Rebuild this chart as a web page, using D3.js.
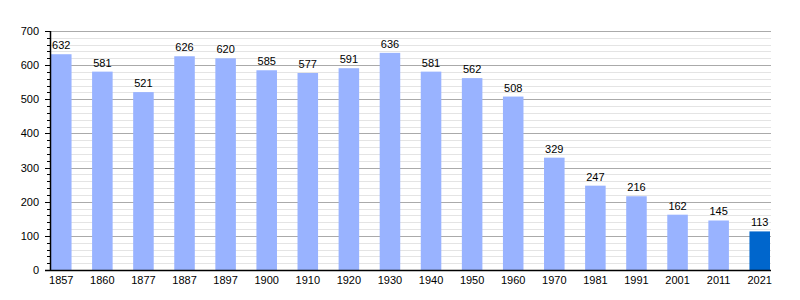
<!DOCTYPE html>
<html>
<head>
<meta charset="utf-8">
<script src="https://cdn.jsdelivr.net/npm/d3@7"></script>
<style>
  body { margin: 0; background: #fff; }
  text { font-family: "Liberation Sans", Arial, sans-serif; font-size: 11px; fill: #000; }
</style>
</head>
<body>
<div id="chart"></div>
<script>
// data
let years = ["1857", "1860", "1877", "1887", "1897", "1900", "1910", "1920", "1930",
             "1940", "1950", "1960", "1970", "1981", "1991", "2001", "2011", "2021"];
let population = [632, 581, 521, 626, 620, 585, 577, 591, 636,
                  581, 562, 508, 329, 247, 216, 162, 145, 113];
let yTicks = [0, 100, 200, 300, 400, 500, 600, 700];

let width = 800, height = 300;
let plotLeft = 50, plotRight = 771, plotTop = 31, plotBottom = 270;

let svg = d3.select("#chart").append("svg")
    .attr("width", width)
    .attr("height", height);

let x = d3.scaleBand()
    .domain(years)
    .range([plotLeft + 1, plotRight - 1])
    .paddingInner(0.5)
    .paddingOuter(0);

let y = d3.scaleLinear()
    .domain([0, 700])
    .range([plotBottom, plotTop]);

// minor grid every 20
let minor = d3.range(20, 701, 20).filter(v => v % 100 != 0);
svg.append("g").selectAll("line")
    .data(minor)
    .join("line")
    .attr("x1", plotLeft).attr("x2", plotRight)
    .attr("y1", d => Math.round(y(d)) + 0.5)
    .attr("y2", d => Math.round(y(d)) + 0.5)
    .attr("stroke", "#e4e4e4")
    .attr("stroke-width", 1);

// major grid
svg.append("g").selectAll("line")
    .data(yTicks.slice(1))
    .join("line")
    .attr("x1", plotLeft).attr("x2", plotRight)
    .attr("y1", d => Math.round(y(d)) + 0.5)
    .attr("y2", d => Math.round(y(d)) + 0.5)
    .attr("stroke", "#aaaaaa")
    .attr("stroke-width", 1);

// bars
svg.append("g").selectAll("rect")
    .data(population)
    .join("rect")
    .attr("x", (d, i) => x(years[i]))
    .attr("y", d => y(d))
    .attr("width", x.bandwidth())
    .attr("height", d => plotBottom - y(d))
    .attr("fill", (d, i) => i == years.length - 1 ? "#0066cc" : "#99b3ff");

// value labels
svg.append("g").selectAll("text")
    .data(population)
    .join("text")
    .attr("x", (d, i) => x(years[i]) + x.bandwidth() / 2)
    .attr("y", d => y(d) - 5)
    .attr("text-anchor", "middle")
    .text(d => d);

// y axis with minor ticks
svg.append("g").selectAll("line")
    .data(d3.range(0, 701, 20))
    .join("line")
    .attr("x1", d => d % 100 == 0 ? plotLeft - 5 : plotLeft - 3)
    .attr("x2", plotLeft)
    .attr("y1", d => Math.round(y(d)) + 0.5)
    .attr("y2", d => Math.round(y(d)) + 0.5)
    .attr("stroke", "#000");

svg.append("line")
    .attr("x1", plotLeft + 0.5).attr("x2", plotLeft + 0.5)
    .attr("y1", plotTop).attr("y2", plotBottom + 1)
    .attr("stroke", "#000").attr("stroke-width", 1.5);

svg.append("g").selectAll("text")
    .data(yTicks)
    .join("text")
    .attr("x", plotLeft - 11)
    .attr("y", d => y(d) + 4)
    .attr("text-anchor", "end")
    .text(d => d);

// x axis
svg.append("line")
    .attr("x1", plotLeft - 5).attr("x2", plotRight)
    .attr("y1", plotBottom + 0.5).attr("y2", plotBottom + 0.5)
    .attr("stroke", "#000").attr("stroke-width", 1.5);

svg.append("g").selectAll("text")
    .data(years)
    .join("text")
    .attr("x", d => x(d) + x.bandwidth() / 2)
    .attr("y", plotBottom + 14)
    .attr("text-anchor", "middle")
    .text(d => d);
</script>
</body>
</html>
